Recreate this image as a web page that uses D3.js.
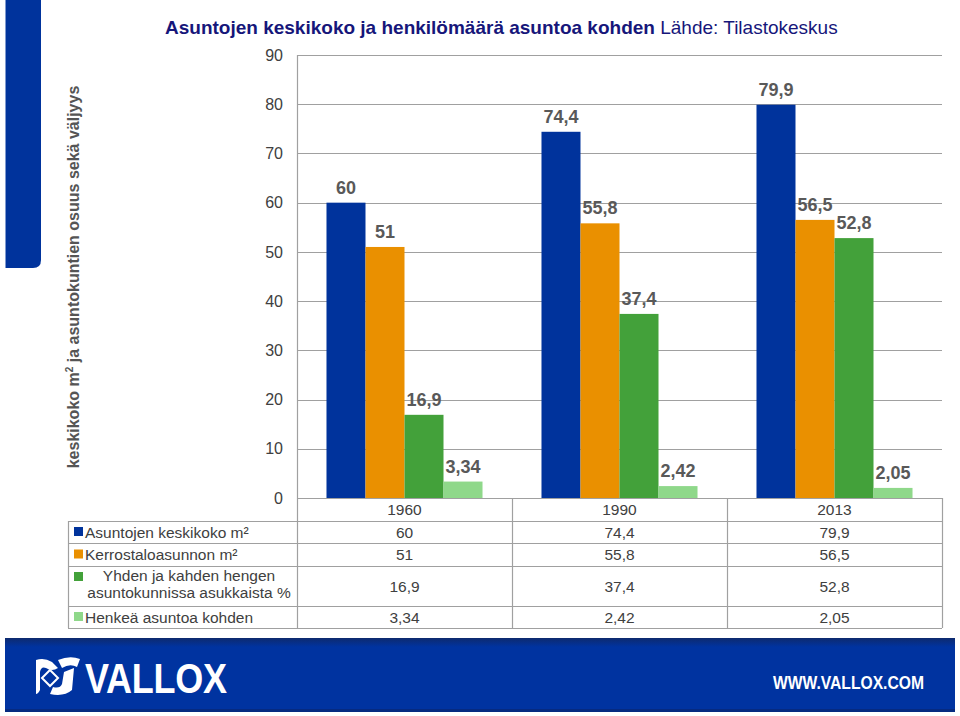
<!DOCTYPE html>
<html><head><meta charset="utf-8">
<script src="https://cdn.jsdelivr.net/npm/d3@7"></script>
<style>
html,body{margin:0;padding:0;background:#fff;}
svg{display:block;font-family:"Liberation Sans",Arial,sans-serif;}
</style></head>
<body><svg id="chart" width="960" height="716"></svg>
<script>
const categories = ["1960", "1990", "2013"];
const seriesNames = ["Asuntojen keskikoko m²", "Kerrostaloasunnon m²", "Yhden ja kahden hengen|asuntokunnissa asukkaista %", "Henkeä asuntoa kohden"];
const seriesColors = ["#00339c", "#ea9000", "#43a13a", "#8fd88a"];
const avgSize = [60, 74.4, 79.9];
const apartmentSize = [51, 55.8, 56.5];
const smallHouseholds = [16.9, 37.4, 52.8];
const personsPerHome = [3.34, 2.42, 2.05];
const seriesValues = [avgSize, apartmentSize, smallHouseholds, personsPerHome];
const yTicks = [0, 10, 20, 30, 40, 50, 60, 70, 80, 90];
const titleBold = "Asuntojen keskikoko ja henkilömäärä asuntoa kohden";
const titleSource = " Lähde: Tilastokeskus";
const yAxisTitleParts = ["keskikoko m", "2", " ja asuntokuntien osuus sekä väljyys"];

const fmt = v => String(v).replace(".", ",");
const svg = d3.select("#chart");

const plotL = 297, plotR = 942, plotT = 55, plotB = 498;
const tableL = 68;
const x0 = d3.scaleBand().domain(categories).range([plotL, plotR]).paddingInner(0).paddingOuter(0);
const x1 = d3.scaleBand().domain(d3.range(seriesValues.length)).range([0, x0.bandwidth()]).paddingOuter(0.756).paddingInner(0);
const y = d3.scaleLinear().domain([0, 90]).range([plotB, plotT]);

// left decorative bar
svg.append("path")
  .attr("d", "M5,0 H41 V260 Q41,268 33,268 H5 Z")
  .attr("fill", "#00339c");
svg.append("line").attr("x1",5.5).attr("x2",5.5).attr("y1",0).attr("y2",268).attr("stroke","#7f9ad0").attr("stroke-width",1);

// title
const t = svg.append("text").attr("x", 165).attr("y", 34).attr("font-size", 19).attr("fill", "#16167a");
t.append("tspan").attr("font-weight", "bold").text(titleBold);
t.append("tspan").attr("font-weight", "normal").text(titleSource);

// vertical axis title with superscript
const vt = svg.append("text")
  .attr("transform", "translate(79,277) rotate(-90)")
  .attr("text-anchor", "middle")
  .attr("font-size", 16).attr("font-weight", "bold").attr("fill", "#555");
vt.append("tspan").text(yAxisTitleParts[0]);
vt.append("tspan").attr("font-size", 10).attr("dy", -6).text(yAxisTitleParts[1]);
vt.append("tspan").attr("dy", 6).text(yAxisTitleParts[2]);

// gridlines
svg.append("g").selectAll("line").data(yTicks.filter(d => d > 0)).join("line")
  .attr("x1", plotL).attr("x2", plotR)
  .attr("y1", d => Math.round(y(d)) + 0.5).attr("y2", d => Math.round(y(d)) + 0.5)
  .attr("stroke", "#a0a0a0").attr("stroke-width", 1.2);

// y axis
const yAxis = d3.axisLeft(y).tickValues(yTicks).tickSize(0).tickPadding(14);
const ga = svg.append("g").attr("transform", `translate(${plotL},0)`).call(yAxis);
ga.select(".domain").remove();
ga.selectAll("text").attr("font-size", 16).attr("fill", "#404040").attr("font-family", "Liberation Sans, Arial, sans-serif");

// bars
const groups = svg.append("g").selectAll("g").data(categories).join("g")
  .attr("transform", d => `translate(${x0(d)},0)`);
groups.selectAll("rect").data((c, ci) => seriesValues.map((s, si) => ({si, v: s[ci]}))).join("rect")
  .attr("x", d => x1(d.si)).attr("width", x1.bandwidth())
  .attr("y", d => y(d.v)).attr("height", d => plotB - y(d.v))
  .attr("fill", d => seriesColors[d.si]);
groups.selectAll("text.lbl").data((c, ci) => seriesValues.map((s, si) => ({si, v: s[ci]}))).join("text")
  .attr("class", "lbl")
  .attr("x", d => x1(d.si) + x1.bandwidth() / 2)
  .attr("y", d => y(d.v) - 9)
  .attr("text-anchor", "middle")
  .attr("font-size", 18).attr("font-weight", "bold").attr("fill", "#595959")
  .text(d => fmt(d.v));

// data table
const rowEdges = [plotB, 521, 543, 566, 606, 628];
const tg = svg.append("g");
const grid = "#a0a0a0";
rowEdges.forEach((ry, i) => {
  tg.append("line").attr("x1", i === 0 ? plotL : tableL).attr("x2", plotR)
    .attr("y1", ry + 0.5).attr("y2", ry + 0.5).attr("stroke", grid).attr("stroke-width", 1.2);
});
tg.append("line").attr("x1", tableL + 0.5).attr("x2", tableL + 0.5).attr("y1", rowEdges[1]).attr("y2", rowEdges[5]).attr("stroke", grid).attr("stroke-width", 1.2);
[plotL].concat(categories.map(c => x0(c) + x0.bandwidth())).forEach((vx, i) => {
  tg.append("line").attr("x1", vx + 0.5).attr("x2", vx + 0.5)
    .attr("y1", i === 0 ? plotT : rowEdges[0]).attr("y2", rowEdges[5])
    .attr("stroke", grid).attr("stroke-width", 1.2);
});
tg.selectAll("text.yr").data(categories).join("text").attr("class", "yr")
  .attr("x", d => x0(d) + x0.bandwidth() / 2).attr("y", (rowEdges[0] + rowEdges[1]) / 2 + 5.5)
  .attr("text-anchor", "middle").attr("font-size", 15.5).attr("fill", "#404040").text(d => d);
seriesNames.forEach((name, si) => {
  const top = rowEdges[si + 1], bot = rowEdges[si + 2], cy = (top + bot) / 2;
  const lines = name.split("|");
  const sqY = lines.length > 1 ? top + 6 : cy - 5;
  tg.append("rect").attr("x", 74).attr("y", sqY).attr("width", 9).attr("height", 9).attr("fill", seriesColors[si]);
  if (lines.length === 1) {
    tg.append("text").attr("x", 85).attr("y", cy + 5.5).attr("font-size", 15.5).attr("fill", "#404040").text(lines[0]);
  } else {
    const midX = 85 + 104;
    lines.forEach((ln, li) => {
      tg.append("text").attr("x", midX).attr("y", top + 15 + li * 17).attr("text-anchor", "middle")
        .attr("font-size", 15.5).attr("fill", "#404040").text(ln);
    });
  }
  categories.forEach((c, ci) => {
    tg.append("text").attr("x", x0(c) + x0.bandwidth() / 2).attr("y", cy + 5.5)
      .attr("text-anchor", "middle").attr("font-size", 15.5).attr("fill", "#404040")
      .text(fmt(seriesValues[si][ci]));
  });
});

// footer band
const defs = svg.append("defs");
const lg = defs.append("linearGradient").attr("id", "fg").attr("x1", 0).attr("x2", 0).attr("y1", 0).attr("y2", 1);
lg.append("stop").attr("offset", "0").attr("stop-color", "#0d2a6e");
lg.append("stop").attr("offset", "0.12").attr("stop-color", "#0033a0");
lg.append("stop").attr("offset", "1").attr("stop-color", "#0033a0");
svg.append("rect").attr("x", 5).attr("y", 638).attr("width", 950).attr("height", 74).attr("fill", "url(#fg)");
svg.append("rect").attr("x", 5).attr("y", 709).attr("width", 950).attr("height", 3).attr("fill", "#062a80");

// logo icon (approximate)
const logo = svg.append("g").attr("fill", "#fff");
logo.append("path").attr("d", "M36,660 Q44,657 52,662 L58,668 Q52,672 46,668 Q41,666 40,672 L40,690 Q38,694 36,694 Z");
logo.append("path").attr("d", "M58,660 Q70,655 80,659 L77,667 Q70,663 62,668 Z");
logo.append("path").attr("d", "M64,672 L74,668 L72,690 Q64,697 50,694 L53,687 Q60,689 62,684 Z");
logo.append("path").attr("d", "M50,670 L58,678 L50,686 L42,678 Z").attr("fill", "none").attr("stroke", "#fff").attr("stroke-width", 2);
svg.append("text").attr("transform", "translate(85,693) scale(1,1.16)").attr("font-size", 36).attr("font-weight", "bold")
  .attr("font-family", "'Liberation Sans',Arial,sans-serif").attr("textLength", 142).attr("fill", "#fff").text("VALLOX");
svg.append("text").attr("transform", "translate(773,689) scale(0.87,1)").attr("font-size", 18).attr("font-weight", "bold")
  .attr("font-family", "'Liberation Sans',Arial,sans-serif").attr("fill", "#fff").text("WWW.VALLOX.COM");
</script></body></html>
